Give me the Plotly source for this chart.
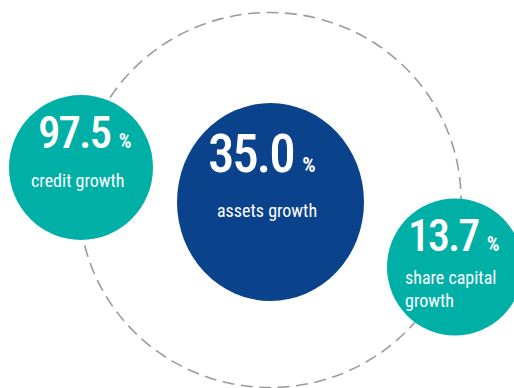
import plotly.graph_objects as go

# ---- data ----
categories = ["credit growth", "assets growth", "share capital<br>growth"]
values = [97.5, 35.0, 13.7]
unit = "%"

# ---- layout constants (pixel coordinates) ----
W, H = 514, 388
TEAL = "#00B0A7"
BLUE = "#0A428C"
GRAY = "#9B9B9B"
FONT = "Roboto Condensed, DejaVu Sans Condensed, sans-serif"

# circle geometry: (cx, cy, rx, ry)
circle_geom = [(81, 167.5, 72, 72.5), (270.5, 202, 93.5, 99), (455, 267, 68, 68.5)]
circle_color = [TEAL, BLUE, TEAL]
ring = (270, 200, 191, 187.5)

# text placement: number (x_left, y_mid, size, pct_size), label (x, y_mid, anchor, align)
num_place = [(36, 132, 45, 20), (206, 153.5, 53, 21), (406, 236, 44, 20)]
lab_place = [(78, 180, "center", "center"), (267, 210, "center", "center"), (403, 289, "left", "left")]
lab_size = [18, 18, 18]
num_track = [-2, -2.2, -2]

fig = go.Figure()
fig.add_trace(go.Scatter(x=[0, W], y=[0, H], mode="markers",
                         marker=dict(opacity=0), hoverinfo="skip", showlegend=False))

shapes = []
cx, cy, rx, ry = ring
shapes.append(dict(type="circle", xref="x", yref="y", x0=cx - rx, x1=cx + rx, y0=cy - ry, y1=cy + ry,
                   line=dict(color=GRAY, width=1.6, dash="12px,6.5px"), fillcolor="rgba(0,0,0,0)",
                   layer="below"))
for (cx, cy, rx, ry), col in zip(circle_geom, circle_color):
    shapes.append(dict(type="circle", xref="x", yref="y", x0=cx - rx, x1=cx + rx, y0=cy - ry, y1=cy + ry,
                       line=dict(width=0), fillcolor=col, layer="below"))

annotations = []
for v, cat, (nx, ny, ns, ps), (lx, ly, la, al), ls, tr in zip(values, categories, num_place, lab_place,
                                                              lab_size, num_track):
    annotations.append(dict(
        x=nx, y=ny, xref="x", yref="y", xanchor="left", yanchor="middle", showarrow=False,
        text=(f"<span style='letter-spacing:{tr}px'>{v:.1f}</span>"
              f"<span style='font-size:{ps}px;letter-spacing:4px'>&nbsp;</span>"
              f"<span style='font-size:{ps}px'><b>{unit}</b></span>"),
        font=dict(family=FONT, size=ns, color="white", weight=500)))
    annotations.append(dict(
        x=lx, y=ly, xref="x", yref="y", xanchor=la, yanchor="middle", align=al, showarrow=False,
        text=cat, font=dict(family=FONT, size=ls, color="white", weight=400)))

fig.update_layout(
    width=W, height=H, margin=dict(l=0, r=0, t=0, b=0),
    paper_bgcolor="white", plot_bgcolor="white",
    xaxis=dict(range=[0, W], visible=False, fixedrange=True),
    yaxis=dict(range=[H, 0], visible=False, fixedrange=True),
    shapes=shapes, annotations=annotations, showlegend=False,
)
fig.write_html("out.html", config={"displayModeBar": False},
               post_script="document.body.style.margin='0';")
